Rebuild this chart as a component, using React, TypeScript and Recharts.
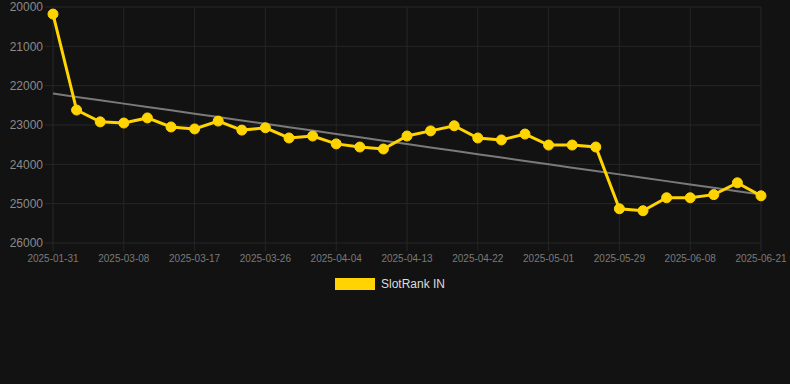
import React from "react";
import { LineChart, Line, XAxis, YAxis, CartesianGrid, Legend } from "recharts";

const dates: string[] = [
  "2025-01-31", "2025-02-14", "2025-02-26", "2025-03-08", "2025-03-11", "2025-03-14",
  "2025-03-17", "2025-03-20", "2025-03-23", "2025-03-26", "2025-03-29", "2025-04-01",
  "2025-04-04", "2025-04-07", "2025-04-10", "2025-04-13", "2025-04-16", "2025-04-19",
  "2025-04-22", "2025-04-25", "2025-04-28", "2025-05-01", "2025-05-10", "2025-05-20",
  "2025-05-29", "2025-06-01", "2025-06-05", "2025-06-08", "2025-06-12", "2025-06-17",
  "2025-06-21",
];

const slotRankIN: number[] = [
  20180, 22620, 22920, 22950, 22820, 23050, 23100, 22900, 23130, 23070, 23330,
  23280, 23480, 23560, 23610, 23280, 23150, 23020, 23330, 23380, 23230, 23510,
  23510, 23560, 25130, 25180, 24850, 24850, 24770, 24470, 24800,
];

const yTicks: number[] = [20000, 21000, 22000, 23000, 24000, 25000, 26000];

const SERIES_NAME = "SlotRank IN";
const YELLOW = "#FFD400";
const GRID = "#262626";

// least-squares trend line derived from the series
const n = slotRankIN.length;
const meanX = (n - 1) / 2;
const meanY = slotRankIN.reduce((a, b) => a + b, 0) / n;
let sxy = 0;
let sxx = 0;
slotRankIN.forEach((v, i) => {
  sxy += (i - meanX) * (v - meanY);
  sxx += (i - meanX) * (i - meanX);
});
const slope = sxy / sxx;
const intercept = meanY - slope * meanX;

const data = dates.map((d, i) => ({
  date: d,
  value: slotRankIN[i],
  trend: intercept + slope * i,
}));

const FONT = "'Liberation Sans', Arial, Helvetica, sans-serif";

const LegendContent = () => (
  <div
    style={{
      height: 24,
      display: "flex",
      alignItems: "center",
      justifyContent: "center",
      fontFamily: FONT,
      fontSize: 12,
      color: "#dddddd",
    }}
  >
    <span
      style={{
        display: "inline-block",
        width: 40,
        height: 12,
        background: YELLOW,
        marginRight: 6,
      }}
    />
    <span>{SERIES_NAME}</span>
  </div>
);

export default function App() {
  return (
    <div
      style={{
        position: "absolute",
        top: 0,
        left: 0,
        width: 790,
        height: 384,
        background: "#121212",
        fontFamily: FONT,
      }}
    >
      <LineChart
        width={790}
        height={300}
        data={data}
        margin={{ top: 7, right: 29, left: 0, bottom: 4 }}
      >
        <CartesianGrid stroke={GRID} strokeWidth={1} />
        <XAxis
          dataKey="date"
          interval={2}
          axisLine={false}
          tickLine={{ stroke: GRID }}
          tickSize={8}
          tickMargin={4}
          height={29}
          tick={{ fill: "#7a7a7a", fontSize: 10, fontFamily: FONT }}
        />
        <YAxis
          reversed
          domain={[20000, 26000]}
          ticks={yTicks}
          interval={0}
          axisLine={false}
          tickLine={{ stroke: GRID }}
          tickSize={8}
          tickMargin={2}
          width={53}
          tick={{ fill: "#8a8a8a", fontSize: 12, fontFamily: FONT }}
        />
        <Legend
          verticalAlign="bottom"
          content={<LegendContent />}
          wrapperStyle={{ left: 0, width: 780 }}
        />
        <Line
          type="linear"
          dataKey="trend"
          stroke="#7a7a7a"
          strokeWidth={2}
          dot={false}
          activeDot={false}
          legendType="none"
          isAnimationActive={false}
        />
        <Line
          type="linear"
          dataKey="value"
          name={SERIES_NAME}
          stroke={YELLOW}
          strokeWidth={3}
          dot={{ r: 5, fill: YELLOW, stroke: YELLOW, strokeWidth: 1 }}
          isAnimationActive={false}
        />
      </LineChart>
    </div>
  );
}
